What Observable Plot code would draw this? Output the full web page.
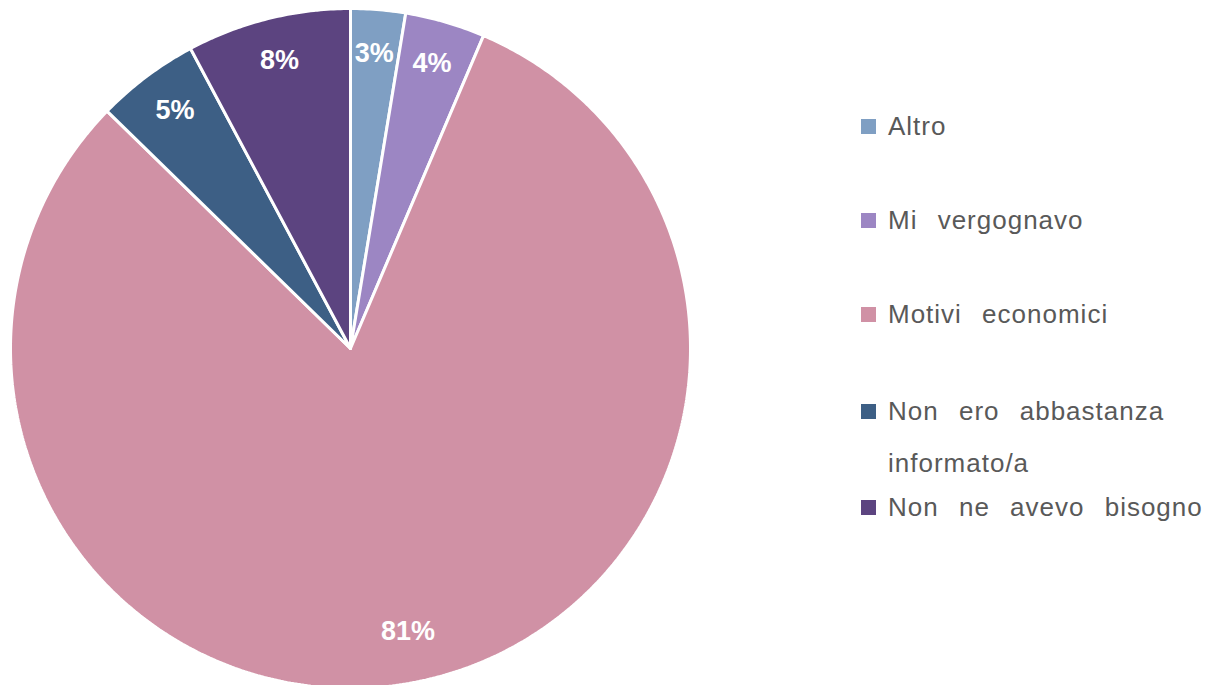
<!DOCTYPE html>
<html>
<head>
<meta charset="utf-8">
<script src="https://cdn.jsdelivr.net/npm/d3@7"></script>
<script src="https://cdn.jsdelivr.net/npm/@observablehq/plot@0.6"></script>
<style>
  body { margin: 0; background: #fff; font-family: "Liberation Sans", Arial, sans-serif; }
  #wrap { position: relative; width: 1209px; height: 685px; overflow: hidden; }
  #chart { position: absolute; left: 0; top: 0; }
  .leg { position: absolute; left: 861px; font-size: 26px; color: #595959; letter-spacing: 1px; word-spacing: 12px; line-height: 52px; }
  .leg .sw { position: absolute; left: 0; width: 15px; height: 15px; }
  .leg .tx { position: absolute; left: 27px; white-space: nowrap; }
</style>
</head>
<body>
<div id="wrap"><div id="chart"></div></div>
<script>
const categories = ["Altro", "Mi vergognavo", "Motivi economici", "Non ero abbastanza informato/a", "Non ne avevo bisogno"];
const values = [2.6, 3.8, 80.9, 4.9, 7.8];
const valueLabels = ["3%", "4%", "81%", "5%", "8%"];
const colors = ["#7f9fc3", "#9c86c3", "#d091a5", "#3d5f85", "#5c4480"];

const pie = d3.pie().sort(null).value(d => d)(values);
const slicePts = [];
const labelPts = [];
pie.forEach((p, i) => {
  const n = Math.max(4, Math.ceil((p.endAngle - p.startAngle) / 0.01));
  slicePts.push({cat: categories[i], x: 0, y: 0});
  for (let k = 0; k <= n; k++) {
    const a = p.startAngle + (p.endAngle - p.startAngle) * k / n;
    slicePts.push({cat: categories[i], x: Math.sin(a), y: Math.cos(a)});
  }
  slicePts.push({cat: categories[i], x: 0, y: 0});
  const m = (p.startAngle + p.endAngle) / 2;
  const lr = 0.86;
  labelPts.push({cat: categories[i], label: valueLabels[i], x: lr * Math.sin(m), y: lr * Math.cos(m)});
});

const chart = Plot.plot({
  width: 1209,
  height: 685,
  margin: 0,
  style: {background: "transparent"},
  x: {domain: [-1, 1], range: [10, 690], axis: null},
  y: {domain: [-1, 1], range: [688, 8], axis: null},
  color: {domain: categories, range: colors},
  marks: [
    Plot.line(slicePts, {x: "x", y: "y", z: "cat", fill: "cat", stroke: "white", strokeWidth: 3, strokeLinejoin: "miter"}),
    Plot.text(labelPts, {x: "x", y: "y", dy: -4, text: "label", fill: "white", fontSize: 27, fontWeight: "bold", fontFamily: "Liberation Sans, Arial, sans-serif"})
  ]
});
document.getElementById("chart").appendChild(chart);

// legend
const legendY = [126, 220, 314, 411, 507];
const wrap = document.getElementById("wrap");
categories.forEach((c, i) => {
  const div = document.createElement("div");
  div.className = "leg";
  div.style.top = (legendY[i] - 26) + "px";
  const sw = document.createElement("div");
  sw.className = "sw";
  sw.style.background = colors[i];
  sw.style.top = "19px";
  div.appendChild(sw);
  const tx = document.createElement("div");
  tx.className = "tx";
  if (c === "Non ero abbastanza informato/a") {
    tx.innerHTML = "Non ero abbastanza<br>informato/a";
  } else {
    tx.textContent = c;
  }
  div.appendChild(tx);
  wrap.appendChild(div);
});
</script>
</body>
</html>
